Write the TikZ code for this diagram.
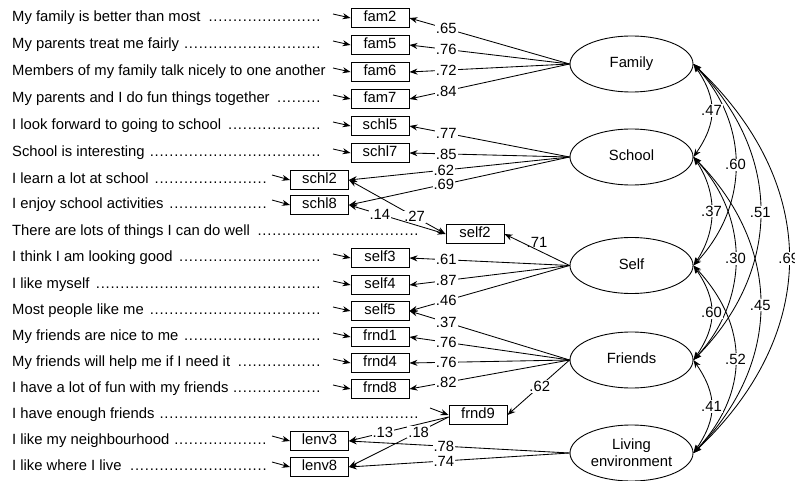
\documentclass[tikz,border=0pt]{standalone}
\usepackage{fontspec}
\setmainfont{Liberation Sans}
\usetikzlibrary{shapes.geometric,arrows.meta}
\newcommand\diagfont{\fontsize{14.8}{17.4}\selectfont}
\newcommand\qrow[2]{\makebox[#2pt][l]{#1\ \leaders\hbox to 4.9pt{\hss.\hss}\hfill}}
\tikzset{
  itm/.style={anchor=west, inner sep=0pt, font=\diagfont, text height=10.5pt, text depth=3pt},
  obs/.style={draw, line width=0.9pt, minimum width=58pt, minimum height=19pt, inner sep=0pt, font=\diagfont, text height=10.5pt, text depth=3pt},
  lat/.style={draw, ellipse, line width=0.9pt, minimum width=123pt, minimum height=56pt, inner sep=0pt, font=\diagfont, align=center},
  lab/.style={fill=white, inner sep=1pt, font=\diagfont},
  arr/.style={-{Stealth[length=8pt,width=6pt]}, line width=0.85pt},
  dbl/.style={{Stealth[length=8pt,width=6pt]}-{Stealth[length=8pt,width=6pt]}, line width=0.85pt},
}
\begin{document}
\begin{tikzpicture}[x=1pt,y=-1pt]
\useasboundingbox (0,0) rectangle (795,481);

% item texts
\node[itm] (t1) at (12,18) {\qrow{My family is better than most}{310}};
\node[itm] (t2) at (12,45) {\qrow{My parents treat me fairly}{310}};
\node[itm] (t3) at (12,72) {Members of my family talk nicely to one another};
\node[itm] (t4) at (12,99) {\qrow{My parents and I do fun things together}{310}};
\node[itm] (t5) at (12,126) {\qrow{I look forward to going to school}{310}};
\node[itm] (t6) at (12,153) {\qrow{School is interesting}{310}};
\node[itm] (t7) at (12,180) {\qrow{I learn a lot at school}{255}};
\node[itm] (t8) at (12,205) {\qrow{I enjoy school activities}{255}};
\node[itm] (t9) at (12,232) {\qrow{There are lots of things I can do well}{408}};
\node[itm] (t10) at (12,258) {\qrow{I think I am looking good}{311}};
\node[itm] (t11) at (12,285) {\qrow{I like myself}{311}};
\node[itm] (t12) at (12,311) {\qrow{Most people like me}{311}};
\node[itm] (t13) at (12,337) {\qrow{My friends are nice to me}{311}};
\node[itm] (t14) at (12,363) {\qrow{My friends will help me if I need it}{311}};
\node[itm] (t15) at (12,389) {\qrow{I have a lot of fun with my friends}{311}};
\node[itm] (t16) at (12,415) {\qrow{I have enough friends}{408}};
\node[itm] (t17) at (12,441) {\qrow{I like my neighbourhood}{255}};
\node[itm] (t18) at (12,467) {\qrow{I like where I live}{255}};

% observed boxes
\node[obs] (fam2) at (380,18) {fam2};
\node[obs] (fam5) at (380,45) {fam5};
\node[obs] (fam6) at (380,72) {fam6};
\node[obs] (fam7) at (380,99) {fam7};
\node[obs] (schl5) at (380,126) {schl5};
\node[obs] (schl7) at (380,153) {schl7};
\node[obs] (schl2) at (319.5,180) {schl2};
\node[obs] (schl8) at (319.5,205) {schl8};
\node[obs] (self2) at (475,234) {self2};
\node[obs] (self3) at (380,258) {self3};
\node[obs] (self4) at (380,285) {self4};
\node[obs] (self5) at (380,311) {self5};
\node[obs] (frnd1) at (380,337) {frnd1};
\node[obs] (frnd4) at (380,363) {frnd4};
\node[obs] (frnd8) at (380,389) {frnd8};
\node[obs] (frnd9) at (478,415) {frnd9};
\node[obs] (lenv3) at (319.5,441) {lenv3};
\node[obs] (lenv8) at (319.5,467) {lenv8};

% latent ellipses
\node[lat] (Fam) at (631.5,64) {\raisebox{3pt}{Family}};
\node[lat] (Sch) at (631.5,157) {\raisebox{3pt}{School}};
\node[lat] (Slf) at (631.5,265.5) {\raisebox{3pt}{Self}};
\node[lat] (Frn) at (631.5,360) {\raisebox{3pt}{Friends}};
\node[lat] (Liv) at (631.5,453) {Living\\environment};

% error arrows
\foreach \b/\y in {fam2/18,fam5/45,fam6/72,fam7/99,schl5/126,schl7/153,self3/258,self4/285,self5/311,frnd1/337,frnd4/363,frnd8/389}{
  \coordinate (e\b) at (333,\y-4);
  \draw[arr] (e\b) -- (\b.west);
}
\foreach \b/\y in {schl2/180,schl8/205,lenv3/441,lenv8/467}{
  \coordinate (e\b) at (272,\y-5);
  \draw[arr] (e\b) -- (\b.west);
}
\coordinate (efrnd9) at (430,408);
\draw[arr] (efrnd9) -- (frnd9.west);

% loadings
\draw[arr] (Fam.west) -- node[lab,pos=0.77]{.65} (fam2.east);
\draw[arr] (Fam.west) -- node[lab,pos=0.77]{.76} (fam5.east);
\draw[arr] (Fam.west) -- node[lab,pos=0.77]{.72} (fam6.east);
\draw[arr] (Fam.west) -- node[lab,pos=0.77]{.84} (fam7.east);
\draw[arr] (Sch.west) -- node[lab,pos=0.77]{.77} (schl5.east);
\draw[arr] (Sch.west) -- node[lab,pos=0.77]{.85} (schl7.east);
\draw[arr] (Sch.west) -- node[lab,pos=0.57]{.62} (schl2.east);
\draw[arr] (Sch.west) -- node[lab,pos=0.57]{.69} (schl8.east);
\draw[arr] (Slf.west) -- node[lab,pos=0.5,above=1pt,fill=none]{.71} (self2.east);
\draw[arr] (Slf.west) -- node[lab,pos=0.77]{.61} (self3.east);
\draw[arr] (Slf.west) -- node[lab,pos=0.77]{.87} (self4.east);
\draw[arr] (Slf.west) -- node[lab,pos=0.77]{.46} (self5.east);
\draw[arr] (Frn.west) -- node[lab,pos=0.77]{.37} (self5.east);
\draw[arr] (Frn.west) -- node[lab,pos=0.77]{.76} (frnd1.east);
\draw[arr] (Frn.west) -- node[lab,pos=0.77]{.76} (frnd4.east);
\draw[arr] (Frn.west) -- node[lab,pos=0.77]{.82} (frnd8.east);
\draw[arr] (Frn.west) -- node[lab,pos=0.48]{.62} (frnd9.east);
\draw[arr] (Liv.west) -- node[lab,pos=0.57]{.78} (lenv3.east);
\draw[arr] (Liv.west) -- node[lab,pos=0.57]{.74} (lenv8.east);

% correlated errors
\draw[dbl] (schl2.east) -- node[lab,pos=0.68]{.27} (self2.west);
\draw[dbl] (schl8.east) -- node[lab,pos=0.32]{.14} (self2.west);
\coordinate (f9a) at ([yshift=-2pt]frnd9.west);
\draw[arr] (f9a) -- node[lab,pos=0.66]{.13} (lenv3.east);
\draw[arr] (f9a) -- node[lab,pos=0.30]{.18} (lenv8.east);

% factor correlations
\draw[dbl] (Fam.east) .. controls +(127,120) and +(127,-120) .. node[lab,pos=0.5]{.69} (Liv.east);
\draw[dbl] (Fam.east) .. controls +(89,90) and +(89,-90) .. node[lab,pos=0.5]{.51} (Frn.east);
\draw[dbl] (Sch.east) .. controls +(89,90) and +(89,-90) .. node[lab,pos=0.5]{.45} (Liv.east);
\draw[dbl] (Fam.east) .. controls +(56,60) and +(56,-60) .. node[lab,pos=0.5]{.60} (Slf.east);
\draw[dbl] (Sch.east) .. controls +(56,60) and +(56,-60) .. node[lab,pos=0.5]{.30} (Frn.east);
\draw[dbl] (Slf.east) .. controls +(56,60) and +(56,-60) .. node[lab,pos=0.5]{.52} (Liv.east);
\draw[dbl] (Fam.east) .. controls +(24,35) and +(24,-35) .. node[lab,pos=0.5]{.47} (Sch.east);
\draw[dbl] (Sch.east) .. controls +(24,35) and +(24,-35) .. node[lab,pos=0.5]{.37} (Slf.east);
\draw[dbl] (Slf.east) .. controls +(24,35) and +(24,-35) .. node[lab,pos=0.5]{.60} (Frn.east);
\draw[dbl] (Frn.east) .. controls +(24,35) and +(24,-35) .. node[lab,pos=0.5]{.41} (Liv.east);
\end{tikzpicture}
\end{document}
